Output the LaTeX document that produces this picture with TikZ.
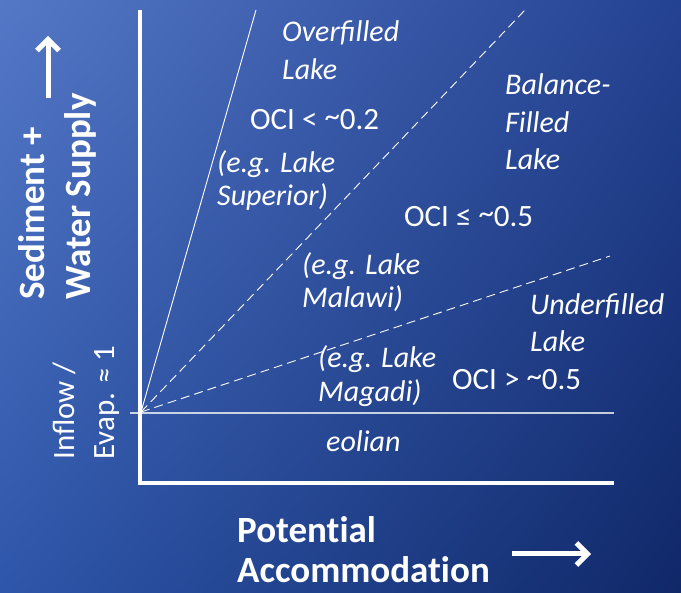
\documentclass[tikz,border=0pt]{standalone}
\usepackage{fontspec}
\setmainfont{Carlito}
\usetikzlibrary{arrows.meta,shadings}
\definecolor{bgTL}{RGB}{84,120,198}
\definecolor{bgTR}{RGB}{36,66,146}
\definecolor{bgBL}{RGB}{46,86,170}
\definecolor{bgBR}{RGB}{16,40,104}
\newcommand{\hitilde}{\raisebox{3.5pt}{\textasciitilde}}
\tikzset{
  lbl/.style={text=white, inner sep=0pt, anchor=base west, font=\fontsize{31}{37}\selectfont},
  ilbl/.style={lbl, font=\fontsize{30}{37}\selectfont\itshape},
  blbl/.style={lbl, font=\fontsize{37}{44}\selectfont\bfseries},
  axisline/.style={draw=white, line width=4pt, line join=miter},
  divsolid/.style={draw=white, line width=0.9pt},
  divdash/.style={draw=white, line width=0.9pt, dash pattern=on 9pt off 5pt},
  refline/.style={draw=white, draw opacity=0.75, line width=1.2pt},
  bigarrow/.style={draw=white, line width=5pt, -{Straight Barb[length=11pt,width=22pt]}}
}
\begin{document}
\begin{tikzpicture}[x=1pt,y=-1pt]
\useasboundingbox (0,0) rectangle (681,593);
\shade[upper left=bgTL, upper right=bgTR, lower left=bgBL, lower right=bgBR] (0,0) rectangle (681,593);
% coordinates
\coordinate (vtop) at (140,10);
\coordinate (corner) at (140,483);
\coordinate (hend) at (614,483);
\coordinate (O) at (141,412);
\coordinate (d1) at (256,10);
\coordinate (d2) at (525,10);
\coordinate (d3) at (610,256);
\coordinate (r0) at (130,413);
\coordinate (r1) at (614,413);
\coordinate (ua0) at (48,98);
\coordinate (ua1) at (48,36);
\coordinate (ra0) at (512,554);
\coordinate (ra1) at (591,554);
% axes
\draw[axisline] (vtop) -- (corner) -- (hend);
\draw[refline] (r0) -- (r1);
\draw[divsolid] (O) -- (d1);
\draw[divdash] (O) -- (d2);
\draw[divdash] (O) -- (d3);
% arrows
\draw[bigarrow] (ua0) -- (ua1);
\draw[bigarrow] (ra0) -- (ra1);
% labels
\node[ilbl] (of1) at (282,42) {Overfilled};
\node[ilbl] (of2) at (282,80) {Lake};
\node[lbl] (oci1) at (250,130) {OCI < \hitilde0.2};
\node[ilbl] (sup1) at (217,173) {(e.g. Lake};
\node[ilbl] (sup2) at (217,206) {Superior)};
\node[ilbl] (bf1) at (505,95) {Balance-};
\node[ilbl] (bf2) at (505,133) {Filled};
\node[ilbl] (bf3) at (505,170) {Lake};
\node[lbl] (oci2) at (404,227) {OCI ≤ \hitilde0.5};
\node[ilbl] (mal1) at (302,275) {(e.g. Lake};
\node[ilbl] (mal2) at (302,308) {Malawi)};
\node[ilbl] (uf1) at (530,315) {Underfilled};
\node[ilbl] (uf2) at (530,352) {Lake};
\node[ilbl] (mag1) at (318,368) {(e.g. Lake};
\node[ilbl] (mag2) at (318,402) {Magadi)};
\node[lbl] (oci3) at (452,390) {OCI > \hitilde0.5};
\node[ilbl] (eol) at (326,452) {eolian};
\node[blbl] (pa1) at (237,543) {Potent\kern0pt ial};
\node[blbl] (pa2) at (237,583) {Accommodat\kern0pt ion};
\node[blbl, rotate=90] (sw1) at (45,300) {Sediment +};
\node[blbl, rotate=90] (sw2) at (90,300) {Water Supply};
\node[lbl, rotate=90] (ie1) at (74,460) {Inflow /};
\node[lbl, rotate=90] (ie2) at (114,460) {Evap. ≈ 1};
\end{tikzpicture}
\end{document}
